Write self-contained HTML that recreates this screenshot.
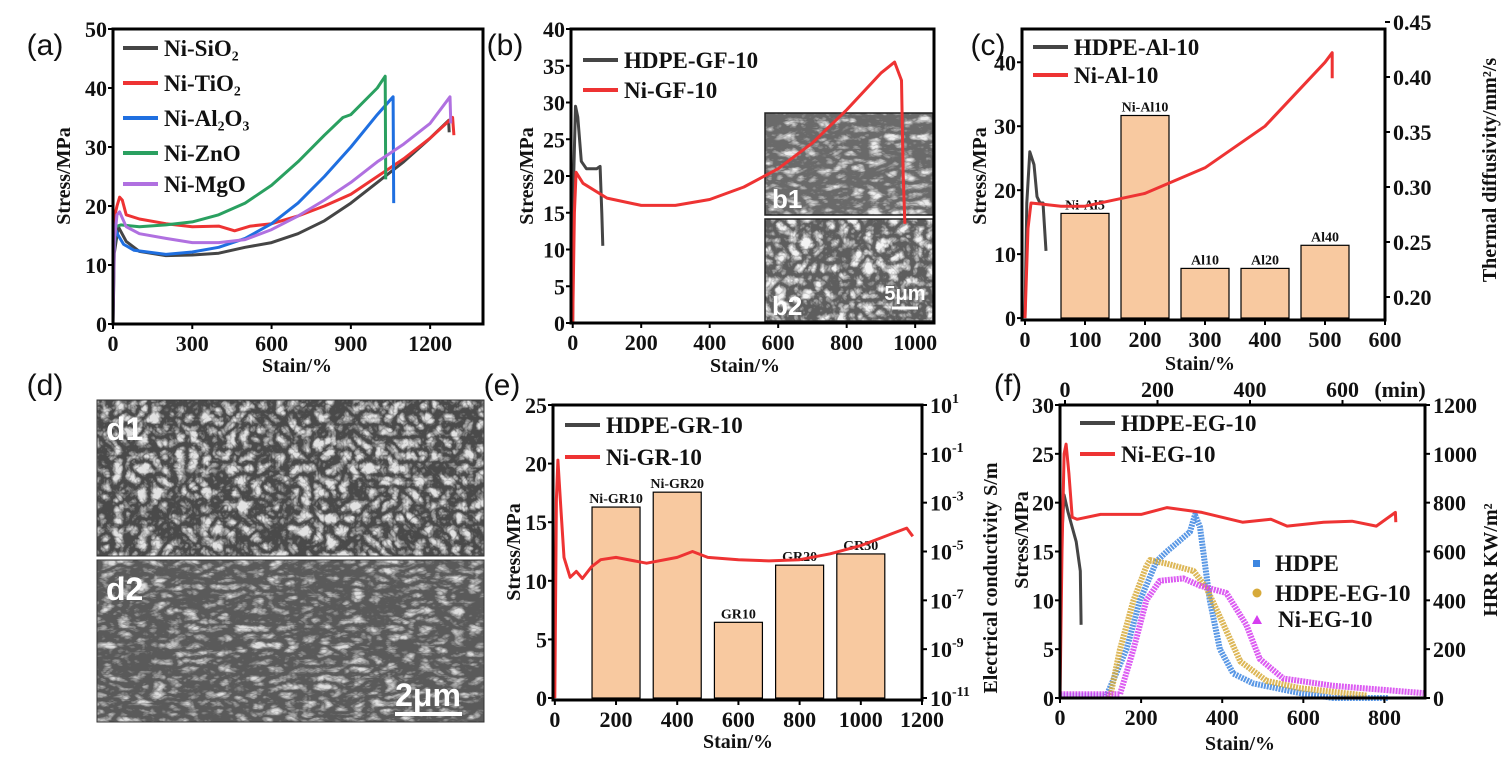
<!DOCTYPE html>
<html><head><meta charset="utf-8">
<style>
html,body{margin:0;padding:0;background:#fff;}
svg{display:block;}
text{font-family:"Liberation Serif",serif;font-weight:bold;fill:#111;}
.pl{font-family:"Liberation Sans",sans-serif;font-weight:normal;font-size:30px;}
.tk{font-family:"Liberation Serif",serif;font-size:22px;font-weight:bold;}
.at{font-family:"Liberation Serif",serif;font-size:20px;font-weight:bold;}
.lg{font-family:"Liberation Serif",serif;font-size:23px;font-weight:bold;}
</style></head>
<body>
<svg id="fig" width="1509" height="764" viewBox="0 0 1509 764" xmlns="http://www.w3.org/2000/svg">
<defs>
<filter id="sem1" x="0" y="0" width="100%" height="100%">
<feTurbulence type="turbulence" baseFrequency="0.08" numOctaves="3" seed="3"/>
<feColorMatrix type="matrix" values="0 0 0 0 0.9  0 0 0 0 0.9  0 0 0 0 0.9  0 0 0 2.6 -0.55"/>
</filter>
<filter id="sem2" x="0" y="0" width="100%" height="100%">
<feTurbulence type="turbulence" baseFrequency="0.06 0.12" numOctaves="3" seed="7"/>
<feColorMatrix type="matrix" values="0 0 0 0 0.85  0 0 0 0 0.85  0 0 0 0 0.85  0 0 0 2.2 -0.6"/>
</filter>
</defs>
</svg>
<script>
// ---------- data ----------
const aSiO2=[[0,0],[5,12],[20,16.5],[50,14],[100,12.3],[200,11.6],[300,11.7],[400,12],[500,13],[600,13.8],[700,15.3],[800,17.5],[900,20.5],[1000,24],[1100,27.5],[1200,31.5],[1270,34.5],[1272,32.5]];
const aTiO2=[[0,3],[5,18],[15,20],[25,21.5],[35,21],[50,18.5],[100,17.8],[200,17],[300,16.5],[400,16.6],[460,15.8],[520,16.6],[600,17],[700,18.3],[800,20],[900,22],[1000,25],[1100,28],[1200,31.5],[1285,35],[1290,32]];
const aAl2O3=[[0,10],[10,16],[20,15],[40,13.5],[80,12.5],[200,11.8],[300,12.2],[400,13],[500,14.5],[600,17],[700,20.5],[800,25],[900,30],[1000,35.5],[1060,38.5],[1062,20.5]];
const aZnO=[[0,10],[10,16.5],[30,16.8],[100,16.5],[200,16.8],[300,17.3],[400,18.5],[500,20.5],[600,23.5],[700,27.5],[800,32],[870,35],[900,35.5],[1000,40],[1030,42],[1032,24.5]];
const aMgO=[[0,0],[5,14],[15,18.5],[25,19],[50,16.5],[100,15.3],[200,14.5],[300,13.8],[400,13.8],[500,14.3],[600,16],[700,18.3],[800,21],[900,24],[1000,27.5],[1100,30.5],[1200,34],[1275,38.5],[1278,34]];
const bHDPE=[[0,0],[3,20],[8,29.5],[15,28],[25,22],[40,21],[70,21],[80,21.3],[85,15],[88,10.5]];
const bNi=[[0,0],[5,15],[10,20.5],[30,19],[100,17],[200,16],[300,16],[400,16.8],[500,18.5],[600,21],[700,24.5],[800,29],[900,34],[940,35.5],[960,33],[965,20],[970,13.5]];
const cHDPE=[[0,0],[3,18],[8,26],[15,24],[20,19],[25,18],[30,18],[35,10.5]];
const cNi=[[0,0],[5,14],[10,18],[30,17.8],[60,17.5],[100,17.5],[200,19.5],[300,23.5],[400,30],[500,40],[512,41.5],[512,37.5]];
const cBarLabels=["Ni-Al5","Ni-Al10","Al10","Al20","Al40"];
const cBarX=[100,200,300,400,500];
const cBarVals=[0.276,0.365,0.226,0.226,0.247];
const eHDPE=[[0,0],[2,0]];
const eNi=[[0,0],[5,17],[10,20.3],[20,16],[30,12],[50,10.3],[70,10.8],[90,10.2],[120,11.2],[150,11.8],[200,12],[300,11.5],[400,12],[450,12.5],[500,12],[600,11.8],[700,11.7],[800,11.8],[900,12.3],[1000,13],[1100,14],[1150,14.5],[1170,13.8]];
const eBarLabels=["Ni-GR10","Ni-GR20","GR10","GR20","GR30"];
const eBarX=[200,400,600,800,1000];
const eBarExp=[-3.18,-2.57,-7.9,-5.56,-5.1];
const fHDPE=[[5,17],[10,20.8],[20,19],[40,16],[50,13],[52,7.5]];
const fNi=[[0,0],[5,15],[10,25],[15,26],[22,23],[30,18.5],[42,18.3],[100,18.8],[200,18.8],[264,19.5],[350,19],[450,18],[520,18.3],[560,17.6],[650,18],[720,18.1],[780,17.6],[827,19],[828,18]];
const fHRR_HDPE=[[-10,10],[90,10],[133,200],[162,400],[198,560],[220,600],[270,680],[281,750],[292,700],[313,400],[335,200],[364,100],[407,60],[508,20],[580,0],[700,0]];
const fHRR_EG=[[97,0],[119,200],[148,400],[176,540],[184,565],[220,550],[278,520],[306,450],[343,300],[379,150],[436,70],[508,40],[652,10]];
const fHRR_Ni=[[-10,15],[119,15],[148,200],[176,400],[205,480],[256,490],[292,460],[349,430],[392,300],[421,160],[472,80],[580,50],[775,20]];

// ---------- helpers ----------
const NS="http://www.w3.org/2000/svg";
const svg=document.getElementById('fig');
function el(tag,attrs,parent,txt){const e=document.createElementNS(NS,tag);for(const k in attrs)e.setAttribute(k,attrs[k]);if(txt!==undefined)e.textContent=txt;(parent||svg).appendChild(e);return e;}
function lin(d0,d1,r0,r1){return v=>r0+(v-d0)*(r1-r0)/(d1-d0);}
function path(pts,sx,sy){return pts.map((p,i)=>(i?'L':'M')+sx(p[0]).toFixed(1)+','+sy(p[1]).toFixed(1)).join('');}
function box(x0,y0,x1,y1,name){const r=el('rect',{x:x0,y:y0,width:x1-x0,height:y1-y0,fill:'none',stroke:'#000','stroke-width':3});}
function xTicks(vals,sx,y,name){vals.forEach(v=>{const x=sx(v);el('line',{x1:x,x2:x,y1:y,y2:y+5,stroke:'#000','stroke-width':2});const t=el('text',{x:x,y:y+27,'text-anchor':'middle',class:'tk'},null,v);});}
function yTicks(vals,sy,x,name,right){vals.forEach(v=>{const y=sy(v);el('line',{x1:x,x2:right?x+5:x-5,y1:y,y2:y,stroke:'#000','stroke-width':2});const t=el('text',{x:right?x+8:x-6,y:y+8,'text-anchor':right?'start':'end',class:'tk'},null,v);});}
function line(pts,sx,sy,col,name,w){const p=el('path',{d:path(pts,sx,sy),fill:'none',stroke:col,'stroke-width':w||3,'stroke-linejoin':'round'});}
function label(x,y,s,cls,name,rot,anchor){const t=el('text',{x:x,y:y,class:cls,'text-anchor':anchor||'middle'},null,s);if(rot)t.setAttribute('transform','rotate(-90 '+x+' '+y+')');return t;}
function legLine(x,y,col,txt,name){el('line',{x1:x,x2:x+35,y1:y,y2:y,stroke:col,'stroke-width':4});label(x+41,y+8,txt,'lg',name,false,'start');}

// ---------- panel (a) ----------
{const sx=lin(0,1400,113,483),sy=lin(0,50,324,29);
label(45,55,'(a)','pl','panel-label-a');
line(aSiO2,sx,sy,'#454545','series-ni-sio2');line(aTiO2,sx,sy,'#ee3333','series-ni-tio2');line(aAl2O3,sx,sy,'#1f6fe0','series-ni-al2o3');line(aZnO,sx,sy,'#2aa060','series-ni-zno');line(aMgO,sx,sy,'#b070e0','series-ni-mgo');
box(113,29,483,324,'plot-area-a');
xTicks([0,300,600,900,1200],sx,324,'x-tick-a');yTicks([0,10,20,30,40,50],sy,113,'y-tick-a');
const L=[['#454545','Ni-SiO₂'],['#ee3333','Ni-TiO₂'],['#1f6fe0','Ni-Al₂O₃'],['#2aa060','Ni-ZnO'],['#b070e0','Ni-MgO']];
[48,83,118,153,184].forEach((y,i)=>legLine(123,y,L[i][0],L[i][1],'legend-entry-a'));
label(70,176,'Stress/MPa','at','y-axis-title-a',true);label(297,372,'Stain/%','at','x-axis-title-a');}

// ---------- panel (b) ----------
{const sx=lin(-5,1055,571,934),sy=lin(0,40,323,29);
label(505,55,'(b)','pl','panel-label-b');
const g1=el('g',{});
el('rect',{x:765,y:113,width:168,height:102,fill:'#6a6a6a'},g1);el('rect',{x:765,y:113,width:168,height:102,filter:'url(#sem2)'},g1);el('rect',{x:765,y:113,width:168,height:102,fill:'none',stroke:'#222','stroke-width':1.5},g1);
const g2=el('g',{});
el('rect',{x:765,y:219,width:168,height:102,fill:'#5e5e5e'},g2);el('rect',{x:765,y:219,width:168,height:102,filter:'url(#sem1)'},g2);el('rect',{x:765,y:219,width:168,height:102,fill:'none',stroke:'#222','stroke-width':1.5},g2);
const t1=label(772,208,'b1','pl','inset-label-b1',false,'start');t1.setAttribute('style','fill:#fff;font-weight:bold;font-size:26px');
const t2=label(772,315,'b2','pl','inset-label-b2',false,'start');t2.setAttribute('style','fill:#fff;font-weight:bold;font-size:26px');
const t3=label(905,300,'5μm','pl','scale-bar-label-b',false,'middle');t3.setAttribute('style','fill:#fff;font-weight:bold;font-size:20px');
el('line',{x1:892,x2:918,y1:308,y2:308,stroke:'#fff','stroke-width':3});
line(bHDPE,sx,sy,'#454545','series-hdpe-gf-10');line(bNi,sx,sy,'#ee3333','series-ni-gf-10');
box(571,29,934,323,'plot-area-b');
xTicks([0,200,400,600,800,1000],sx,323,'x-tick-b');yTicks([0,5,10,15,20,25,30,35,40],sy,571,'y-tick-b');
legLine(583,60,'#454545','HDPE-GF-10','legend-entry-b');legLine(583,90,'#ee3333','Ni-GF-10','legend-entry-b');
label(533,176,'Stress/MPa','at','y-axis-title-b',true);label(745,372,'Stain/%','at','x-axis-title-b');}

// ---------- panel (c) ----------
{const sx=lin(-5,600,1022,1385),sy=lin(-0.3,45.2,320,29),sr=lin(0.20,0.45,297,22);
label(988,55,'(c)','pl','panel-label-c');
cBarVals.forEach((v,i)=>{const x=sx(cBarX[i]);const r=el('rect',{x:x-24,y:sr(v),width:48,height:318-sr(v),fill:'#f8c9a0',stroke:'#000','stroke-width':1.2});
const t=label(x,sr(v)-4,cBarLabels[i],'','bar-label-c');t.setAttribute('style','font-size:14px');});
line(cHDPE,sx,sy,'#454545','series-hdpe-al-10');line(cNi,sx,sy,'#ee3333','series-ni-al-10');
box(1022,29,1385,320,'plot-area-c');
xTicks([0,100,200,300,400,500,600],sx,320,'x-tick-c');yTicks([0,10,20,30,40],sy,1022,'y-tick-c');
yTicks(['0.20','0.25','0.30','0.35','0.40','0.45'],v=>sr(+v),1385,'y-right-tick-c',true);
legLine(1033,47,'#454545','HDPE-Al-10','legend-entry-c');legLine(1033,75,'#ee3333','Ni-Al-10','legend-entry-c');
label(986,176,'Stress/MPa','at','y-axis-title-c',true);label(1200,370,'Stain/%','at','x-axis-title-c');
label(1496,170,'Thermal diffusivity/mm²/s','at','y-right-axis-title-c',true);}

// ---------- panel (d) ----------
{label(45,395,'(d)','pl','panel-label-d');
[[400,156,'d1','#4a4a4a','url(#sem1)'],[560,162,'d2','#5a5a5a','url(#sem2)']].forEach(([y,h,n,c,f])=>{const g=el('g',{});
el('rect',{x:97,y:y,width:387,height:h,fill:c},g);el('rect',{x:97,y:y,width:387,height:h,filter:f,opacity:0.9},g);el('rect',{x:97,y:y,width:387,height:h,fill:'none',stroke:'#333','stroke-width':1},g);
const t=label(106,y+40,n,'pl','image-label-'+n,false,'start');t.setAttribute('style','fill:#fff;font-weight:bold;font-size:32px');});
const s=label(428,706,'2μm','pl','scale-bar-label-d');s.setAttribute('style','fill:#fff;font-weight:bold;font-size:32px');
el('line',{x1:395,x2:462,y1:714,y2:714,stroke:'#fff','stroke-width':4});}

// ---------- panel (e) ----------
{const sx=lin(-6,1200,553,922),sy=lin(0,25,698,405),sr=lin(-11,1,698,405);
label(502,395,'(e)','pl','panel-label-e');
eBarExp.forEach((v,i)=>{const x=sx(eBarX[i]);const r=el('rect',{x:x-24,y:sr(v),width:48,height:698-sr(v),fill:'#f8c9a0',stroke:'#000','stroke-width':1.2});
const t=label(x,sr(v)-4,eBarLabels[i],'','bar-label-e');t.setAttribute('style','font-size:14px');});
line(eHDPE,sx,sy,'#454545','series-hdpe-gr-10');line(eNi,sx,sy,'#ee3333','series-ni-gr-10');
box(553,405,922,700,'plot-area-e');
xTicks([0,200,400,600,800,1000,1200],sx,700,'x-tick-e');yTicks([0,5,10,15,20,25],sy,553,'y-tick-e');
[1,-1,-3,-5,-7,-9,-11].forEach(e=>{const y=sr(e);el('line',{x1:922,x2:927,y1:y,y2:y,stroke:'#000','stroke-width':2});const t=el('text',{x:930,y:y+8,class:'tk'});
el('tspan',{},t,'10');el('tspan',{dy:-10,style:'font-size:14px'},t,String(e));});
legLine(565,425,'#454545','HDPE-GR-10','legend-entry-e');legLine(565,457,'#ee3333','Ni-GR-10','legend-entry-e');
label(520,552,'Stress/MPa','at','y-axis-title-e',true);label(738,748,'Stain/%','at','x-axis-title-e');
label(997,578,'Electrical conductivity S/m','at','y-right-axis-title-e',true);}

// ---------- panel (f) ----------
{const sx=lin(0,900,1060,1425),sy=lin(0,30,698,405),st=lin(0,100,1065,1111.25),sr=lin(0,1200,698,405);
label(1008,395,'(f)','pl','panel-label-f');
[[fHRR_HDPE,'#3d86e0','series-hrr-hdpe'],[fHRR_EG,'#d7aa3a','series-hrr-hdpe-eg-10'],[fHRR_Ni,'#d63ef0','series-hrr-ni-eg-10']].forEach(([d,c,n])=>{const p=el('path',{d:path(d,st,sr),fill:'none',stroke:c,'stroke-width':6,'stroke-dasharray':'2 1','stroke-linejoin':'round',opacity:0.85});});
line(fHDPE,sx,sy,'#454545','series-hdpe-eg-10');line(fNi,sx,sy,'#ee3333','series-ni-eg-10');
box(1060,405,1425,698,'plot-area-f');
xTicks([0,200,400,600,800],sx,698,'x-tick-f');yTicks([0,5,10,15,20,25,30],sy,1060,'y-tick-f');
yTicks([0,200,400,600,800,1000,1200],sr,1425,'y-right-tick-f',true);
[0,200,400,600].forEach(v=>{const x=st(v);el('line',{x1:x,x2:x,y1:405,y2:400,stroke:'#000','stroke-width':2});label(x,397,v,'tk','x-top-tick-f');});
label(1400,397,'(min)','tk','x-top-axis-unit-f');
legLine(1080,423,'#454545','HDPE-EG-10','legend-entry-f');legLine(1080,454,'#ee3333','Ni-EG-10','legend-entry-f');
el('rect',{x:1253,y:560,width:7,height:7,fill:'#3d86e0'});label(1275,571,'HDPE','lg','legend-entry-f-hdpe',false,'start');
el('circle',{cx:1257,cy:593,r:4.5,fill:'#d7aa3a'});label(1275,601,'HDPE-EG-10','lg','legend-entry-f-hdpe-eg',false,'start');
el('path',{d:'M1252,624 L1262,624 L1257,615 Z',fill:'#d63ef0'});label(1278,627,'Ni-EG-10','lg','legend-entry-f-ni-eg',false,'start');
label(1028,540,'Stress/MPa','at','y-axis-title-f',true);label(1240,750,'Stain/%','at','x-axis-title-f');
label(1497,560,'HRR KW/m²','at','y-right-axis-title-f',true);}
</script>
</body></html>
